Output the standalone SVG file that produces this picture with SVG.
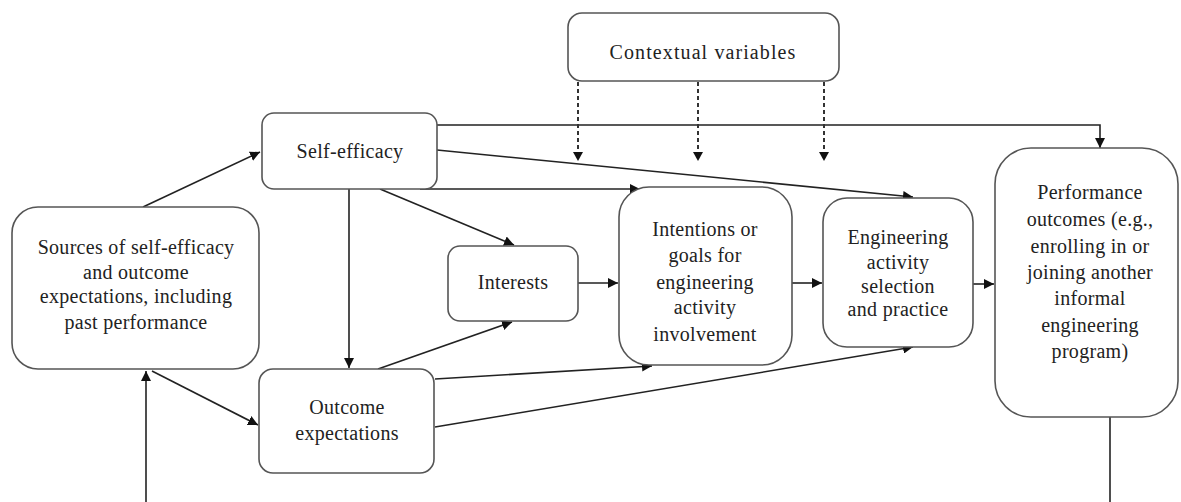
<svg xmlns="http://www.w3.org/2000/svg" width="1181" height="502" viewBox="0 0 1181 502" font-family="'Liberation Serif', 'Times New Roman', serif">
<defs>
<marker id="ah" viewBox="0 0 10 10" refX="10" refY="5" markerWidth="10" markerHeight="10" markerUnits="userSpaceOnUse" orient="auto">
<path d="M0,0 L10,5 L0,10 z" fill="#111"/>
</marker>
<style>
.box{fill:#fff;stroke:#555;stroke-width:1.6}
.t{font-size:20px;fill:#222;text-anchor:middle;letter-spacing:0.3px}
.c{fill:none;stroke:#222;stroke-width:1.6}
.d{fill:none;stroke:#333;stroke-width:2;stroke-dasharray:4 3}
</style>
</defs>
<rect width="1181" height="502" fill="#fff"/>
<g id="connectors">
<line class="c" x1="143" y1="207" x2="260" y2="152" marker-end="url(#ah)"/>
<line class="c" x1="152" y1="371" x2="258" y2="425" marker-end="url(#ah)"/>
<polyline class="c" points="146,502 146,371" marker-end="url(#ah)"/>
<line class="c" x1="349" y1="189" x2="349" y2="368" marker-end="url(#ah)"/>
<line class="c" x1="380" y1="189" x2="514" y2="245" marker-end="url(#ah)"/>
<line class="c" x1="378" y1="369" x2="512" y2="322" marker-end="url(#ah)"/>
<line class="c" x1="420" y1="189" x2="640" y2="189" marker-end="url(#ah)"/>
<line class="c" x1="437" y1="150" x2="913" y2="197" marker-end="url(#ah)"/>
<polyline class="c" points="437,125 1100,125 1100,148" marker-end="url(#ah)"/>
<line class="c" x1="578" y1="283" x2="618" y2="283" marker-end="url(#ah)"/>
<line class="c" x1="792" y1="283" x2="822" y2="283" marker-end="url(#ah)"/>
<line class="c" x1="973" y1="284" x2="994" y2="284" marker-end="url(#ah)"/>
<line class="c" x1="435" y1="379" x2="652" y2="366" marker-end="url(#ah)"/>
<line class="c" x1="435" y1="427" x2="913" y2="347" marker-end="url(#ah)"/>
<line class="c" x1="1110" y1="417" x2="1110" y2="502"/>
<line class="d" x1="578" y1="82" x2="578" y2="152"/>
<path d="M573,152 L583,152 L578,161 z" fill="#111"/>
<line class="d" x1="698" y1="82" x2="698" y2="152"/>
<path d="M693,152 L703,152 L698,161 z" fill="#111"/>
<line class="d" x1="824" y1="82" x2="824" y2="152"/>
<path d="M819,152 L829,152 L824,161 z" fill="#111"/>
</g>
<g id="contextual">
<rect class="box" x="568" y="13" width="271" height="68" rx="14"/>
<text class="t" x="703" y="59" style="letter-spacing:1.1px">Contextual variables</text>
</g>
<g id="sources">
<rect class="box" x="12" y="207" width="247" height="162" rx="26"/>
<text class="t" x="136" y="254">Sources of self-efficacy</text>
<text class="t" x="136" y="279">and outcome</text>
<text class="t" x="136" y="303">expectations, including</text>
<text class="t" x="136" y="329">past performance</text>
</g>
<g id="self-efficacy">
<rect class="box" x="262" y="113" width="175" height="76" rx="12"/>
<text class="t" x="350" y="158">Self-efficacy</text>
</g>
<g id="outcome">
<rect class="box" x="259" y="369" width="175" height="104" rx="14"/>
<text class="t" x="347" y="414">Outcome</text>
<text class="t" x="347" y="440">expectations</text>
</g>
<g id="interests">
<rect class="box" x="448" y="246" width="130" height="75" rx="12"/>
<text class="t" x="513" y="289">Interests</text>
</g>
<g id="intentions">
<rect class="box" x="619" y="187" width="173" height="178" rx="30"/>
<text class="t" x="705" y="236">Intentions or</text>
<text class="t" x="705" y="262">goals for</text>
<text class="t" x="705" y="289">engineering</text>
<text class="t" x="705" y="314">activity</text>
<text class="t" x="705" y="341">involvement</text>
</g>
<g id="engineering">
<rect class="box" x="823" y="198" width="150" height="149" rx="24"/>
<text class="t" x="898" y="244">Engineering</text>
<text class="t" x="898" y="269">activity</text>
<text class="t" x="898" y="293">selection</text>
<text class="t" x="898" y="316">and practice</text>
</g>
<g id="performance">
<rect class="box" x="995" y="148" width="183" height="269" rx="36"/>
<text class="t" x="1090" y="199">Performance</text>
<text class="t" x="1090" y="226">outcomes (e.g.,</text>
<text class="t" x="1090" y="253">enrolling in or</text>
<text class="t" x="1090" y="279">joining another</text>
<text class="t" x="1090" y="305">informal</text>
<text class="t" x="1090" y="332">engineering</text>
<text class="t" x="1090" y="358">program)</text>
</g>
</svg>
